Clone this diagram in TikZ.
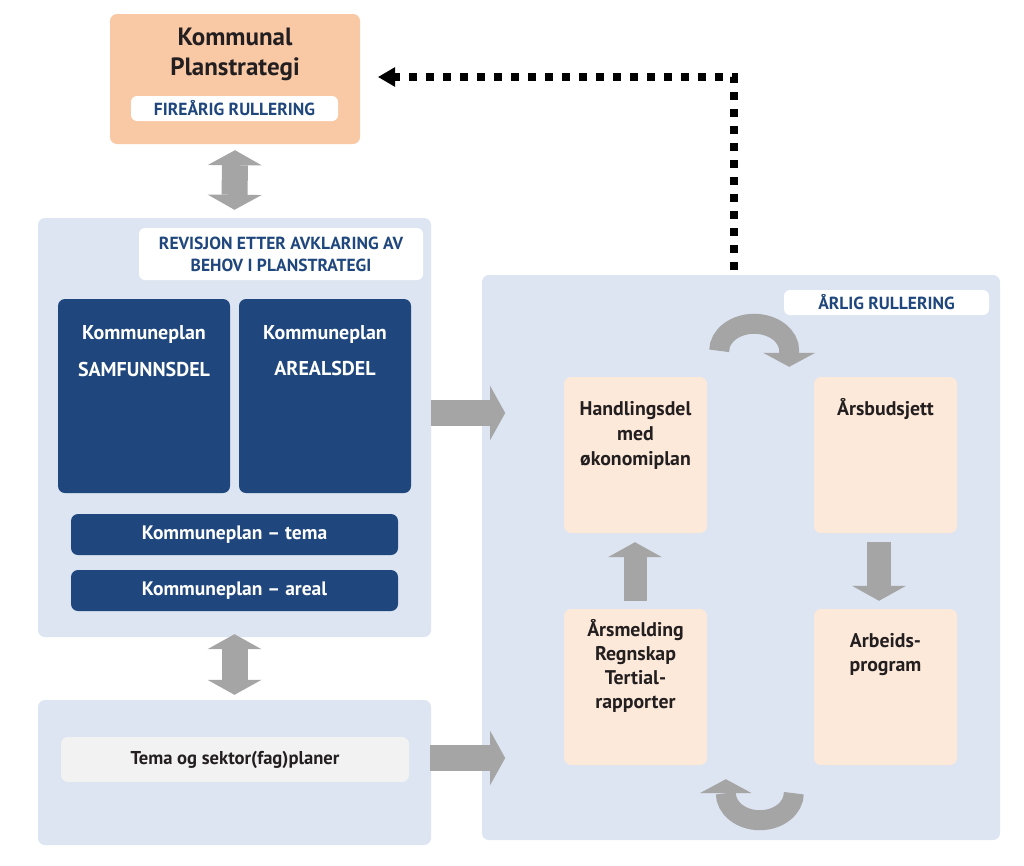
\documentclass[tikz,border=0pt]{standalone}
\usepackage{fontspec}
\setmainfont{PT Sans}
\usetikzlibrary{arrows.meta,calc}
\definecolor{kpsSalmon}{HTML}{F9C9A6}
\definecolor{planBlue}{HTML}{DCE5F1}
\definecolor{darkBlue}{HTML}{1F477D}
\definecolor{peach}{HTML}{FDE9D9}
\definecolor{arrowGray}{HTML}{A5A5A5}
\definecolor{tagGray}{HTML}{F2F2F2}
\definecolor{textBlack}{HTML}{231F20}

\begin{document}
\begin{tikzpicture}
[x=1pt,y=-1pt,
    boxDecorate/.style={shape=rectangle,rounded corners=7pt,inner sep=0pt},%
    bgDecorate/.style={boxDecorate,fill=planBlue},%
    darkDecorate/.style={boxDecorate,fill=darkBlue,text=white,font=\bfseries\fontsize{19.5}{22}\selectfont},%
    peachDecorate/.style={boxDecorate,fill=peach},%
    tagDecorate/.style={boxDecorate,fill=white,rounded corners=6pt,text=darkBlue,align=center,font=\bfseries\fontsize{17.5}{22}\selectfont},%
    textDecorate/.style={anchor=north,align=center,inner sep=0pt,text=textBlack,font=\bfseries\fontsize{19.8}{25}\selectfont},%
    arrowDecorate/.style={draw=arrowGray,line width=26pt,-{Triangle[width=54pt,length=15pt,line width=0pt]}},%
    twoWayDecorate/.style={draw=arrowGray,line width=26pt,{Triangle[width=54pt,length=15pt,line width=0pt]}-{Triangle[width=54pt,length=15pt,line width=0pt]}},%
    cycleDecorate/.style={draw=arrowGray,line width=20pt,-{Triangle[width=52pt,length=14pt,line width=0pt]}},%
    dotDecorate/.style={draw=black,line width=8pt,dash pattern=on 8pt off 9pt,-{Triangle[width=20pt,length=17pt,line width=0pt]}}]
    \fill[white] (0,0) rectangle (1024,865);
    \useasboundingbox (0,0) rectangle (1024,865);
    %% planstrategi
    \node (kps) at (235,79) [boxDecorate,fill=kpsSalmon,minimum width=250pt,minimum height=130pt] {};
    \node[textDecorate,font=\bfseries\fontsize{25}{30}\selectfont] at ($(kps.north)+(0,14)$) {Kommunal\\Planstrategi};
    \node (kpsTag) at (234.5,108.5) [tagDecorate,minimum width=207pt,minimum height=25pt] {FIREÅRIG RULLERING};
    %% light blue frames
    \foreach \nodename/\x/\y/\w/\h in {venstre/234.5/427.5/393/419, sektor/234.5/772.5/393/145, hoyre/741/557.5/518/565}
    {
        \node (\nodename) at (\x,\y) [bgDecorate,minimum width=\w pt,minimum height=\h pt] {};
    }
    \node (revTag) at (281,254) [tagDecorate,minimum width=284pt,minimum height=52pt] {REVISJON ETTER AVKLARING AV\\BEHOV I PLANSTRATEGI};
    \node (aarTag) at (886.5,302.5) [tagDecorate,minimum width=205pt,minimum height=25pt] {ÅRLIG RULLERING};
    \node (sektorTag) at (235,759.5) [boxDecorate,fill=tagGray,minimum width=348pt,minimum height=45pt,text=textBlack,font=\bfseries\fontsize{18.6}{20}\selectfont] {Tema og sektor(fag)planer};
    %% kommuneplan boxes
    \node (samf) at (144,396) [darkDecorate,minimum width=172pt,minimum height=194pt] {};
    \node (areal) at (325,396) [darkDecorate,minimum width=172pt,minimum height=194pt] {};
    \node[textDecorate,text=white,font=\bfseries\fontsize{20}{37}\selectfont] at ($(samf.north)+(0,26)$) {Kommuneplan\\SAMFUNNSDEL};
    \node[textDecorate,text=white,font=\bfseries\fontsize{20}{36}\selectfont] at ($(areal.north)+(0,26)$) {Kommuneplan\\AREALSDEL};
    \node (tema) at (234.5,534.5) [darkDecorate,minimum width=327pt,minimum height=41pt] {Kommuneplan -- tema};
    \node (arealKp) at (234.5,590.5) [darkDecorate,minimum width=327pt,minimum height=41pt] {Kommuneplan -- areal};
    %% yearly cycle
    \foreach \nodename/\x/\y in {hand/635.5/455, budsj/885.5/455, melding/635.5/687, arbeid/885.5/687}
    {
        \node (\nodename) at (\x,\y) [peachDecorate,minimum width=143pt,minimum height=156pt] {};
    }
    \node[textDecorate] at ($(hand.north)+(0,24)$) {Handlingsdel\\med\\økonomiplan};
    \node[textDecorate] at ($(budsj.north)+(0,21)$) {Årsbudsjett};
    \node[textDecorate,font=\bfseries\fontsize{19.8}{24.3}\selectfont] at ($(melding.north)+(0,10)$) {Årsmelding\\Regnskap\\Tertial-\\rapporter};
    \node[textDecorate,font=\bfseries\fontsize{19.8}{24}\selectfont] at ($(arbeid.north)+(0,24)$) {Arbeids-\\program};
    %% arrows
    \draw[twoWayDecorate] ($(kps.south)+(0,6)$) -- ($(venstre.north)+(0,-8)$);
    \draw[twoWayDecorate] ($(venstre.south)+(0,-3)$) -- ($(sektor.north)+(0,-5)$);
    \draw[arrowDecorate] ($(venstre.east)+(0,-14.5)$) -- ($(venstre.east)+(74,-14.5)$);
    \draw[arrowDecorate] ($(sektor.east)+(-1,-14.5)$) -- ($(sektor.east)+(74,-14.5)$);
    \draw[arrowDecorate,line width=23pt] ($(melding.north)+(-0.5,-8)$) -- ($(hand.south)+(-0.5,9)$);
    \draw[arrowDecorate,line width=24pt] ($(budsj.south)+(-6.5,9)$) -- ($(arbeid.north)+(-6.5,-8)$);
    \draw[cycleDecorate] ($(hand.north east)+(12,-26)$) arc[start angle=180,end angle=360,x radius=35,y radius=27] -- ++(0,16);
    \draw[cycleDecorate] ($(arbeid.south west)+(-20,28)$) arc[start angle=0,end angle=180,x radius=34,y radius=27] -- ++(0,-14);
    \draw[dotDecorate] ($(hoyre.north)+(-7,-5)$) |- ($(kps.east)+(18,-2)$);
\end{tikzpicture}
\end{document}
